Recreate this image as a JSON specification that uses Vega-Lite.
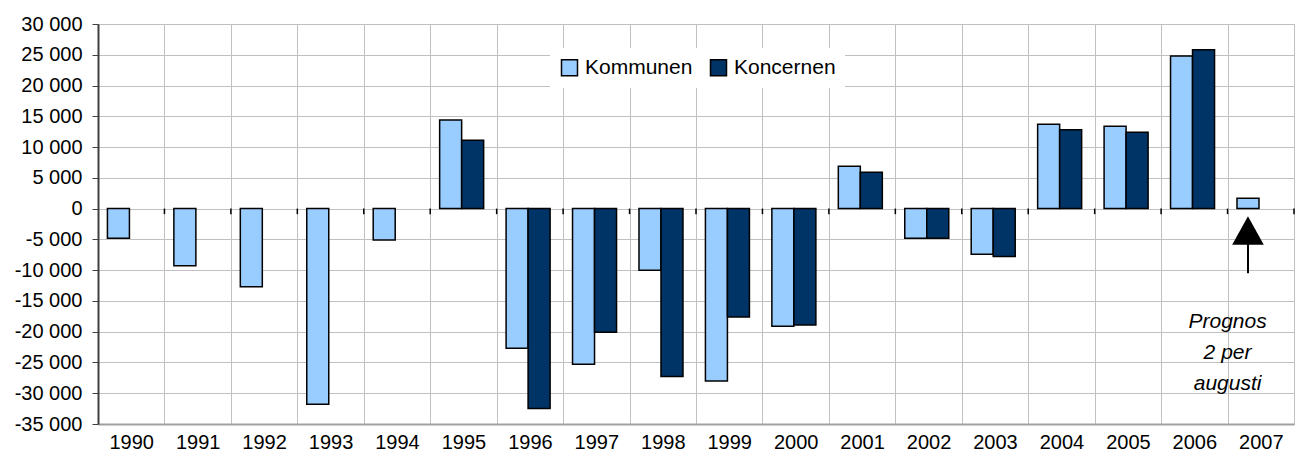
{
  "$schema": "https://vega.github.io/schema/vega-lite/v6.json",
  "width": 1296,
  "height": 458,
  "autosize": {"type": "fit", "contains": "padding"},
  "padding": {"left": 0, "top": 14, "right": 1, "bottom": 0},
  "background": "white",
  "config": {
    "view": {"stroke": "#c0c0c0"},
    "font": "Liberation Sans",
    "locale": {"number": {"decimal": ",", "thousands": " ", "grouping": [3], "currency": ["", " kr"], "minus": "-"}}
  },
  "datasets": {
    "bars": [
      {"year": "1990", "series": "Kommunen", "value": -4800},
      {"year": "1991", "series": "Kommunen", "value": -9300},
      {"year": "1992", "series": "Kommunen", "value": -12700},
      {"year": "1993", "series": "Kommunen", "value": -31800},
      {"year": "1994", "series": "Kommunen", "value": -5100},
      {"year": "1995", "series": "Kommunen", "value": 14400},
      {"year": "1995", "series": "Koncernen", "value": 11100},
      {"year": "1996", "series": "Kommunen", "value": -22700},
      {"year": "1996", "series": "Koncernen", "value": -32500},
      {"year": "1997", "series": "Kommunen", "value": -25300},
      {"year": "1997", "series": "Koncernen", "value": -20100},
      {"year": "1998", "series": "Kommunen", "value": -10000},
      {"year": "1998", "series": "Koncernen", "value": -27300},
      {"year": "1999", "series": "Kommunen", "value": -28000},
      {"year": "1999", "series": "Koncernen", "value": -17600},
      {"year": "2000", "series": "Kommunen", "value": -19100},
      {"year": "2000", "series": "Koncernen", "value": -18900},
      {"year": "2001", "series": "Kommunen", "value": 6900},
      {"year": "2001", "series": "Koncernen", "value": 5900},
      {"year": "2002", "series": "Kommunen", "value": -4800},
      {"year": "2002", "series": "Koncernen", "value": -4800},
      {"year": "2003", "series": "Kommunen", "value": -7400},
      {"year": "2003", "series": "Koncernen", "value": -7800},
      {"year": "2004", "series": "Kommunen", "value": 13700},
      {"year": "2004", "series": "Koncernen", "value": 12800},
      {"year": "2005", "series": "Kommunen", "value": 13400},
      {"year": "2005", "series": "Koncernen", "value": 12400},
      {"year": "2006", "series": "Kommunen", "value": 24800},
      {"year": "2006", "series": "Koncernen", "value": 25800},
      {"year": "2007", "series": "Kommunen", "value": 1700}
    ],
    "years": [
      {"year": "1991"}, {"year": "1992"}, {"year": "1993"}, {"year": "1994"}, {"year": "1995"},
      {"year": "1996"}, {"year": "1997"}, {"year": "1998"}, {"year": "1999"}, {"year": "2000"},
      {"year": "2001"}, {"year": "2002"}, {"year": "2003"}, {"year": "2004"}, {"year": "2005"},
      {"year": "2006"}, {"year": "2007"}
    ],
    "note": [
      {"year": "2007", "series": "Kommunen", "lineTop": -5100, "lineBottom": -10500, "head": -3560, "textY": -18500, "label": ["Prognos", "2 per", "augusti"]}
    ]
  },
  "layer": [
    {
      "data": {"name": "bars"},
      "mark": {"type": "bar", "stroke": "black", "strokeWidth": 1.5},
      "encoding": {
        "x": {
          "field": "year", "type": "nominal",
          "scale": {"paddingInner": 0, "paddingOuter": 0},
          "axis": {
            "title": null, "labelFont": "Liberation Sans", "labelFontSize": 20, "labelColor": "black",
            "labelOverlap": false, "labelFlush": false,
            "labelAngle": 0, "tickBand": "extent", "grid": true, "gridColor": "#c0c0c0",
            "ticks": false, "domain": true, "domainColor": "#a0a0a0", "domainWidth": 2,
            "labelPadding": 8, "minExtent": 34, "maxExtent": 34
          }
        },
        "xOffset": {
          "field": "series", "type": "nominal",
          "scale": {"domain": ["Kommunen", "Koncernen"], "paddingInner": 0, "paddingOuter": 0.51, "align": 0.42}
        },
        "y": {
          "field": "value", "type": "quantitative",
          "scale": {"domain": [-35000, 30000], "nice": false, "zero": false},
          "axis": {
            "title": null, "labelFont": "Liberation Sans", "labelFontSize": 20, "labelColor": "black",
            "labelOverlap": false, "labelFlush": false, "labelBound": false,
            "values": [-35000, -30000, -25000, -20000, -15000, -10000, -5000, 0, 5000, 10000, 15000, 20000, 25000, 30000],
            "tickCount": 20,
            "format": ",d",
            "grid": true, "gridColor": "#c0c0c0", "domainColor": "#404040", "domainWidth": 2,
            "tickColor": "#404040", "tickSize": 6, "labelPadding": 10, "minExtent": 98, "maxExtent": 98
          }
        },
        "color": {
          "field": "series", "type": "nominal",
          "scale": {"domain": ["Kommunen", "Koncernen"], "range": ["#99CCFF", "#003366"]},
          "legend": {
            "title": null, "orient": "none", "legendX": 452, "legendY": 24, "direction": "horizontal",
            "fillColor": "white", "padding": 9, "symbolType": "square", "symbolSize": 256,
            "symbolStrokeColor": "black", "symbolStrokeWidth": 1.5, "labelFontSize": 21,
            "labelFont": "Liberation Sans", "labelColor": "black", "columnPadding": 14, "labelOffset": 5
          }
        }
      }
    },
    {
      "mark": {"type": "rule", "color": "black", "strokeWidth": 1.5},
      "encoding": {"y": {"datum": 0}}
    },
    {
      "data": {"name": "years"},
      "mark": {"type": "rule", "color": "black", "strokeWidth": 1.5},
      "encoding": {
        "x": {"field": "year", "type": "nominal", "bandPosition": 0},
        "y": {"datum": 0},
        "y2": {"datum": -900}
      }
    },
    {
      "data": {"values": [{"year": "2007"}]},
      "mark": {"type": "rule", "color": "black", "strokeWidth": 1.5},
      "encoding": {
        "x": {"field": "year", "type": "nominal", "bandPosition": 1},
        "y": {"datum": 0},
        "y2": {"datum": -900}
      }
    },
    {
      "data": {"name": "note"},
      "mark": {"type": "rule", "color": "black", "strokeWidth": 2},
      "encoding": {
        "x": {"field": "year", "type": "nominal"},
        "xOffset": {"field": "series", "type": "nominal"},
        "y": {"field": "lineTop", "type": "quantitative"},
        "y2": {"field": "lineBottom"}
      }
    },
    {
      "data": {"name": "note"},
      "mark": {"type": "point", "shape": "M-1,0.9L0,-0.9L1,0.9Z", "filled": true, "color": "black", "opacity": 1, "size": 1000},
      "encoding": {
        "x": {"field": "year", "type": "nominal"},
        "xOffset": {"field": "series", "type": "nominal"},
        "y": {"field": "head", "type": "quantitative"}
      }
    },
    {
      "data": {"name": "note"},
      "mark": {"type": "text", "font": "Liberation Sans", "fontSize": 21, "fontStyle": "italic", "color": "black", "align": "center", "baseline": "middle", "lineHeight": 31},
      "encoding": {
        "x": {"field": "year", "type": "nominal", "bandPosition": 0},
        "y": {"field": "textY", "type": "quantitative"},
        "text": {"field": "label"}
      }
    }
  ]
}
